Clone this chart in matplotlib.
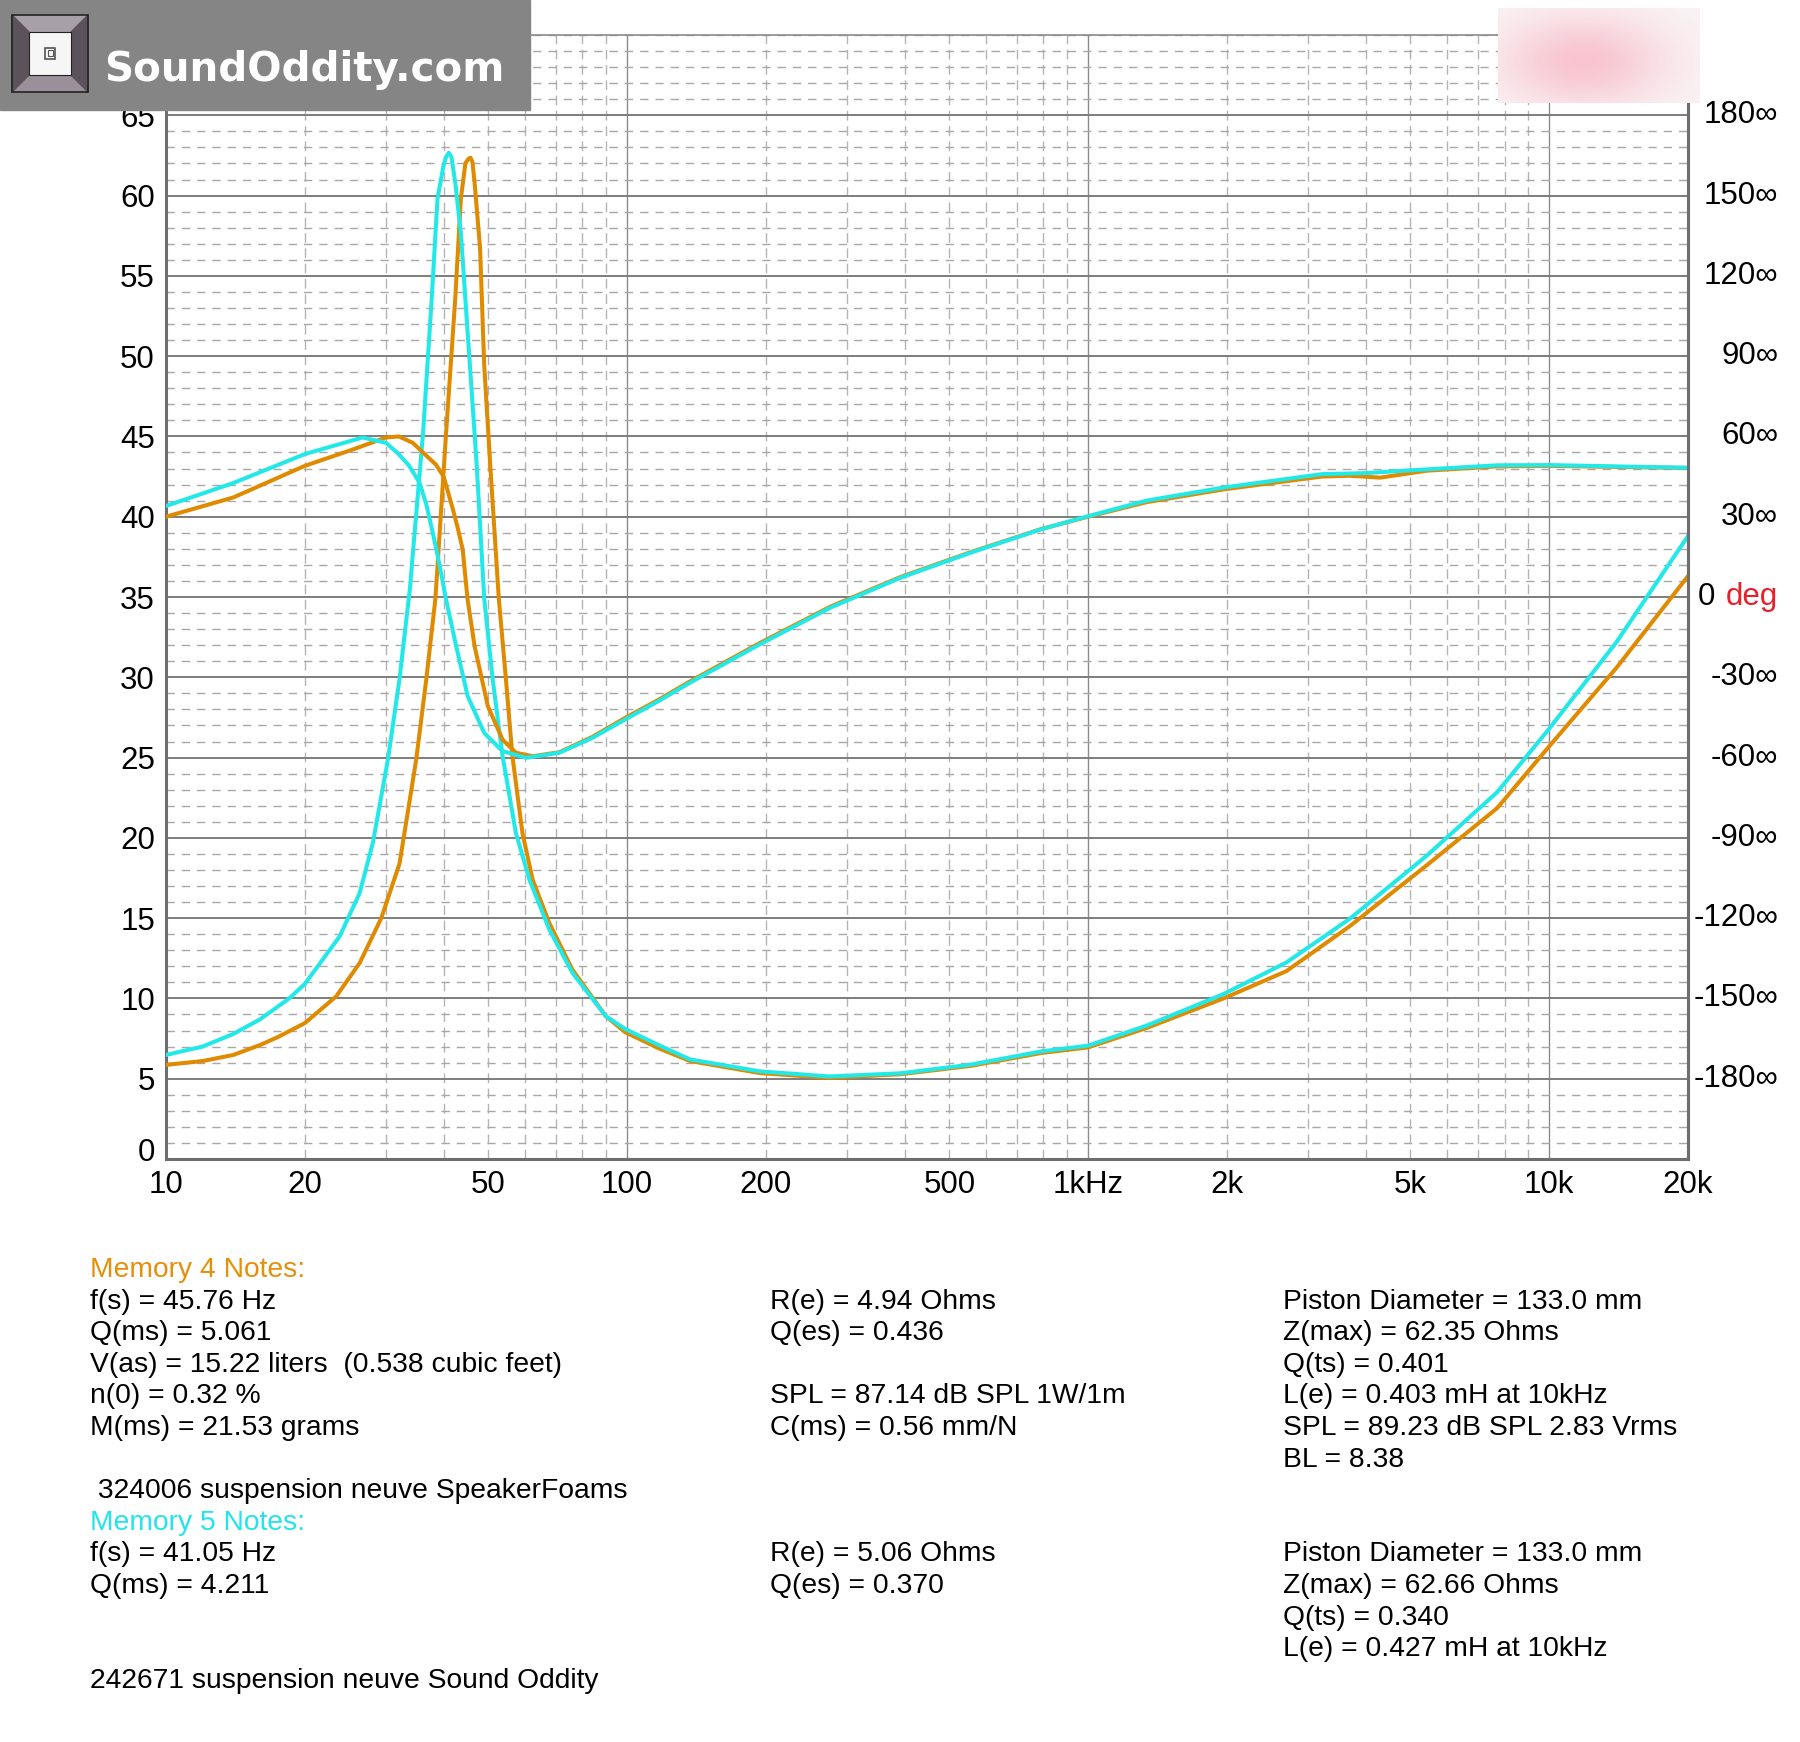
import numpy as np
import matplotlib
matplotlib.use("Agg")
import matplotlib.pyplot as plt
from matplotlib.patches import Rectangle, Polygon
from matplotlib.transforms import ScaledTranslation

plt.rcParams['font.family'] = ['Liberation Sans', 'DejaVu Sans']

# ---- data ----
# impedance magnitude (ohms), Memory 4 (orange)
m4_imp_f = [10, 12, 14, 16, 17.5, 20, 23.4, 26.3, 29.3, 32.1, 34.9, 36.7, 38.4, 40.5, 42.4, 43.6,
            44.6, 45.3, 45.76, 46.2, 46.7, 48.0, 49.0, 50.5, 52.7, 54.6, 56.4, 59.3, 62.4, 67.8,
            76.1, 89.9, 99, 117, 137, 194, 275, 392, 557, 791, 1000, 1337, 1966, 2692, 3694,
            5430, 7710, 10000, 14000, 20000]
m4_imp_z = [5.86, 6.1, 6.48, 7.1, 7.6, 8.46, 10.13, 12.2, 15.0, 18.4, 24.9, 29.9, 34.9, 45.2, 53.6, 59.8,
            62.0, 62.3, 62.35, 62.1, 60.8, 56.7, 49.4, 43.2, 34.9, 29.9, 25.1, 20.3, 17.4, 14.7,
            11.8, 8.9, 7.9, 6.9, 6.1, 5.35, 5.05, 5.28, 5.8, 6.6, 6.95, 8.15, 10.0, 11.7, 14.5,
            18.3, 21.85, 25.7, 30.6, 36.3]

# impedance magnitude (ohms), Memory 5 (cyan)
m5_imp_f = [10, 12, 14, 16, 18.5, 20, 23.8, 26.3, 28.1, 30.3, 32.1, 33.8, 36.1, 37.7, 38.8, 40.0,
            40.5, 41.05, 41.6, 42.4, 43.6, 45.1, 47.2, 49.0, 51.1, 53.7, 57.4, 61.4, 67.8, 76.1,
            89.9, 99, 117, 137, 194, 275, 392, 557, 791, 1000, 1337, 1966, 2692, 3694, 5430,
            7710, 10000, 14000, 20000]
m5_imp_z = [6.48, 7.0, 7.79, 8.7, 10.0, 10.9, 13.86, 16.56, 19.7, 24.9, 29.9, 35.5, 45.2, 53.6, 59.8, 61.9,
            62.4, 62.66, 62.4, 60.8, 57.7, 51.5, 43.2, 34.9, 29.9, 25.1, 20.3, 17.4, 14.3, 11.6,
            8.9, 8.1, 7.1, 6.2, 5.46, 5.14, 5.34, 5.88, 6.70, 7.06, 8.30, 10.27, 12.24, 14.96, 18.9,
            22.84, 26.8, 32.2, 38.8]

# phase (degrees), Memory 4 (orange)
m4_ph_f = [10, 14, 20, 25.5, 30, 32, 34.3, 36.7, 38.5, 40, 41.9, 42.9, 44.0, 45.1, 46.7, 49.9,
           53.7, 57.4, 62.4, 71.3, 84.2, 99, 117, 137, 194, 276, 392, 557, 791, 1000, 1337,
           1966, 3210, 3700, 4300, 5430, 7710, 10000, 14000, 20000]
m4_ph_deg = [30, 37.2, 49, 55.2, 59.6, 60, 57.6, 52.8, 49.5, 45, 32.8, 26, 17.8, -1, -18.4, -40.8,
             -53.3, -58.2, -59.5, -58.0, -52.2, -45.2, -38.4, -31.5, -17.2, -3.6, 7.5, 16.8, 25.4, 30.0, 35.4,
             40.2, 45.0, 45.3, 44.6, 47.2, 48.8, 49.0, 48.6, 48.2]

# phase (degrees), Memory 5 (cyan)
m5_ph_f = [10, 14, 20, 26.7, 30, 31.8, 33.7, 35.5, 36.7, 37.9, 39.2, 40.5, 42.6, 45.1, 49, 53.7,
           60.4, 71.3, 84.2, 99, 117, 137, 194, 276, 392, 557, 791, 1000, 1337, 1966, 3210,
           4000, 5430, 7710, 10000, 14000, 20000]
m5_ph_deg = [34, 42.6, 53.4, 59.6, 57.6, 53.8, 49, 42.6, 34.5, 24, 12, -1, -18.4, -37, -50.8, -57.6,
             -60.1, -58.2, -52.6, -45.8, -38.9, -32, -17.7, -4, 7.2, 16.6, 25.3, 30.2, 36, 40.9, 45.9,
             46.3, 47.7, 49.2, 49.3, 48.8, 48.3]

x_tick_vals = [10, 20, 50, 100, 200, 500, 1000, 2000, 5000, 10000, 20000]
x_tick_labels = ['10', '20', '50', '100', '200', '500', '1kHz', '2k', '5k', '10k', '20k']
y_tick_vals = list(range(0, 66, 5))
phase_ticks = list(range(-180, 181, 30))

notes_col1 = [(0, "Memory 4 Notes:", 'm4'), (1, "f(s) = 45.76 Hz", None), (2, "Q(ms) = 5.061", None),
              (3, "V(as) = 15.22 liters  (0.538 cubic feet)", None), (4, "n(0) = 0.32 %", None),
              (5, "M(ms) = 21.53 grams", None), (7, " 324006 suspension neuve SpeakerFoams", None),
              (8, "Memory 5 Notes:", 'm5'), (9, "f(s) = 41.05 Hz", None), (10, "Q(ms) = 4.211", None),
              (13, "242671 suspension neuve Sound Oddity", None)]
notes_col2 = [(1, "R(e) = 4.94 Ohms"), (2, "Q(es) = 0.436"), (4, "SPL = 87.14 dB SPL 1W/1m"),
              (5, "C(ms) = 0.56 mm/N"), (9, "R(e) = 5.06 Ohms"), (10, "Q(es) = 0.370")]
notes_col3 = [(1, "Piston Diameter = 133.0 mm"), (2, "Z(max) = 62.35 Ohms"), (3, "Q(ts) = 0.401"),
              (4, "L(e) = 0.403 mH at 10kHz"), (5, "SPL = 89.23 dB SPL 2.83 Vrms"), (6, "BL = 8.38"),
              (9, "Piston Diameter = 133.0 mm"), (10, "Z(max) = 62.66 Ohms"), (11, "Q(ts) = 0.340"),
              (12, "L(e) = 0.427 mH at 10kHz")]

ORANGE = '#e08a00'
CYAN = '#22e8e8'
colors = {'m4': '#e6900a', 'm5': '#22e4ec'}

W, H = 1800, 1742
fig = plt.figure(figsize=(W / 100, H / 100), dpi=100)
fig.patch.set_facecolor('white')

L, R, T, B = 166, 1688, 35, 1159
ax = fig.add_axes([L / W, 1 - B / H, (R - L) / W, (B - T) / H])
ax.set_xscale('log')
ax.set_xlim(10, 20000)
ax.set_ylim(0, 70)

# grid
ax.xaxis.remove_overlapping_locs = False
ax.set_xticks(x_tick_vals)
ax.set_xticklabels(x_tick_labels, fontsize=22.5)
minor_x = [m * d for d in [10, 100, 1000, 10000] for m in range(2, 10) if m * d < 20000]
ax.set_xticks(minor_x, minor=True)
ax.set_xticklabels([], minor=True)
ax.set_yticks(y_tick_vals)
ax.set_yticklabels([str(v) for v in y_tick_vals], fontsize=22.5)
ax.set_yticks(np.arange(0, 71, 1), minor=True)
ax.tick_params(which='both', length=0)
ax.tick_params(axis='y', pad=8)
ax.tick_params(axis='x', pad=8)
# the bottom "0" sits a little above its line in the original
zero_lab = ax.get_yticklabels()[0]
zero_lab.set_transform(zero_lab.get_transform() + ScaledTranslation(0, 7 / 72, fig.dpi_scale_trans))
ax.grid(False)
ax.grid(True, which='major', axis='y', color='#7d7d7d', lw=1.4)
ax.grid(True, which='minor', axis='y', color='#a8a8a8', lw=1.0, linestyle=(0, (6, 5)))
ax.grid(True, which='minor', axis='x', color='#b4b4b4', lw=1.0, linestyle=(0, (7, 4)))
for d in [100, 1000, 10000]:
    ax.axvline(d, color='#8c8c8c', lw=1.0, zorder=0.5)
ax.set_axisbelow(True)

for side in ['left', 'right', 'bottom']:
    ax.spines[side].set_color('#6e6e6e')
    ax.spines[side].set_linewidth(2.2)
ax.spines['top'].set_color('#8a8a8a')
ax.spines['top'].set_linewidth(1.2)

ax.plot(m4_imp_f, m4_imp_z, color=ORANGE, lw=2.9, zorder=3, solid_joinstyle='round')
ax.plot(m5_imp_f, m5_imp_z, color=CYAN, lw=2.9, zorder=3, solid_joinstyle='round')

ax2 = ax.twinx()
ax2.set_ylim(-210, 210)
ax2.set_yticks(phase_ticks)
ax2.set_yticklabels([])
ax2.tick_params(length=0)
for side in ['left', 'top', 'bottom']:
    ax2.spines[side].set_visible(False)
ax2.spines['right'].set_color('#6e6e6e')
ax2.spines['right'].set_linewidth(2.2)
ax2.plot(m4_ph_f, m4_ph_deg, color=ORANGE, lw=2.9, solid_joinstyle='round')
ax2.plot(m5_ph_f, m5_ph_deg, color=CYAN, lw=2.9, solid_joinstyle='round')

# right-hand phase labels
lab_off = 65
for v in phase_ticks:
    if v == 0:
        continue
    ax2.annotate(f"{v}\u221e", xy=(1, v), xycoords=('axes fraction', 'data'),
                 xytext=(lab_off, 0), textcoords='offset points', ha='right', va='center',
                 fontsize=22.5)
deg = ax2.annotate("deg", xy=(1, 0), xycoords=('axes fraction', 'data'),
                   xytext=(lab_off, 0), textcoords='offset points', ha='right', va='center',
                   fontsize=22.5, color='#e8202a')
fig.canvas.draw()
deg_w = deg.get_window_extent().width * 72 / fig.dpi
ax2.annotate("0", xy=(1, 0), xycoords=('axes fraction', 'data'),
             xytext=(lab_off - deg_w - 8, 0), textcoords='offset points', ha='right', va='center',
             fontsize=22.5)

# notes under the chart
row0, row_h = 1277, 31.6
for r, s, c in notes_col1:
    fig.text(90 / W, 1 - (row0 + r * row_h) / H, s, fontsize=20.3, va='baseline',
             color=colors[c] if c else 'black')
for r, s in notes_col2:
    fig.text(770 / W, 1 - (row0 + r * row_h) / H, s, fontsize=20.3, va='baseline')
for r, s in notes_col3:
    fig.text(1283 / W, 1 - (row0 + r * row_h) / H, s, fontsize=20.3, va='baseline')

# overlay: logo banner and blurred patch
ov = fig.add_axes([0, 0, 1, 1], zorder=10)
ov.set_xlim(0, W)
ov.set_ylim(H, 0)
ov.axis('off')
ov.patch.set_alpha(0)
ov.add_patch(Rectangle((0, 0), 530, 110, color='#858585'))
ox0, oy0, ox1, oy1 = 12, 15, 88, 92
ix0, iy0, ix1, iy1 = 29, 32, 71, 75
ov.add_patch(Polygon([(ox0, oy0), (ox1, oy0), (ix1, iy0), (ix0, iy0)], color='#a89fa8'))
ov.add_patch(Polygon([(ox0, oy1), (ox1, oy1), (ix1, iy1), (ix0, iy1)], color='#9a909a'))
ov.add_patch(Polygon([(ox0, oy0), (ix0, iy0), (ix0, iy1), (ox0, oy1)], color='#5c525c'))
ov.add_patch(Polygon([(ox1, oy0), (ix1, iy0), (ix1, iy1), (ox1, oy1)], color='#5c525c'))
ov.add_patch(Rectangle((ix0, iy0), ix1 - ix0, iy1 - iy0, facecolor='#f6f6f6', edgecolor='none'))
ov.add_patch(Rectangle((ox0, oy0), ox1 - ox0, oy1 - oy0, fill=False, edgecolor='#222222', lw=1.2))
ov.add_patch(Rectangle((ix0, iy0), ix1 - ix0, iy1 - iy0, fill=False, edgecolor='#222222', lw=0.8))
ov.add_patch(Rectangle((45, 48), 10, 11, fill=False, edgecolor='#555555', lw=1.2))
ov.add_patch(Rectangle((47.5, 50.5), 5, 6, fill=False, edgecolor='#555555', lw=0.8))
logo = ov.text(104, 70, "SoundOddity.com", color='white', fontsize=28, fontweight='bold',
               family='DejaVu Sans', va='center', ha='left')
fig.canvas.draw()
lw_px = logo.get_window_extent().width
logo.set_fontsize(28 * 400 / lw_px)

gy, gx = np.mgrid[0:1:60j, 0:1:120j]
wgt = np.exp(-(((gx - 0.42) / 0.40) ** 2 + ((gy - 0.56) / 0.48) ** 2))
base = np.array([250, 244, 245]) / 255
blob = np.array([248, 196, 207]) / 255
img = base[None, None, :] * (1 - wgt[..., None]) + blob[None, None, :] * wgt[..., None]
ov.imshow(img, extent=[1498, 1700, 103, 8], origin='upper', interpolation='bilinear', aspect='auto')
ov.set_xlim(0, W)
ov.set_ylim(H, 0)

fig.savefig('out.png', dpi=100)
